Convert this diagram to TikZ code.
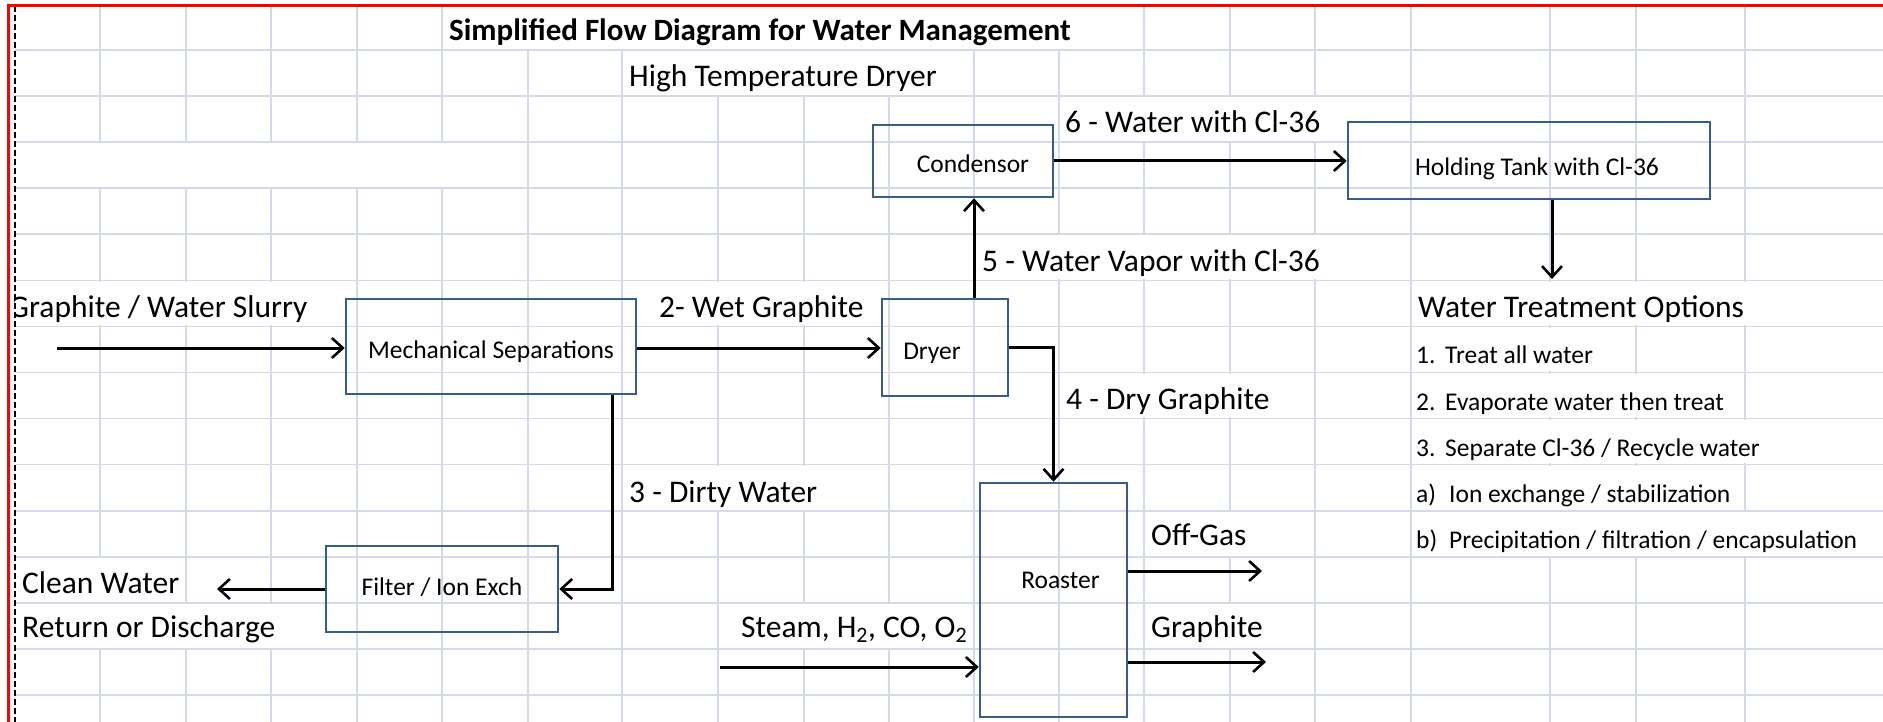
\documentclass[tikz,border=0pt]{standalone}
\usepackage{fontspec}
\setmainfont{Carlito}
\usetikzlibrary{arrows.meta,positioning}
\definecolor{BoxBlue}{RGB}{56,93,138}
\definecolor{GridGray}{RGB}{212,218,232}
\definecolor{SheetRed}{RGB}{255,0,0}

\begin{document}
\begin{tikzpicture}[
    x=1pt, y=-1pt,
    every node/.style={inner sep=0pt},
    % process boxes (no fill, the sheet grid shows through)
    box/.style={rectangle, draw=BoxBlue, line width=2.5pt, text height=24pt, text depth=0pt,
      font=\fontsize{25.5}{30}\selectfont},
    flow/.style={line width=3pt, -{Straight Barb[length=11pt,width=20pt,line width=2.6pt]}},
    biglbl/.style={anchor=base west, font=\fontsize{31.5}{36}\selectfont},
    smalllbl/.style={anchor=base west, font=\fontsize{25.5}{30}\selectfont},
    gridline/.style={draw=GridGray, line width=1.6pt}
  ]

    \useasboundingbox (0,0) rectangle (1883,722);
    \fill[white] (0,0) rectangle (1883,722);

    % Sheet grid
    \foreach \k in {0,...,14}
      \draw[gridline] (15,{50+46.07*\k}) -- (1883,{50+46.07*\k});
    \foreach \gx in {100,186,271,357,442,528,622,718,804,889,974,1059,1144,1230,1315,1411,1550,1636,1745}
      \draw[gridline] (\gx,6) -- (\gx,722);

    % Cells where text runs over (grid hidden)
    \foreach \xa/\xb/\r in {449/1090/0, 626/945/1, 1062/1330/2, 16/500/3, 980/1330/5,
        16/312/6, 655/868/6, 1416/1755/6, 1414/1605/7, 1414/1716/8, 1064/1272/8,
        1414/1756/9, 626/822/10, 1414/1732/10, 1414/1862/11, 1149/1250/11,
        16/182/12, 16/278/13, 739/970/13, 1149/1265/13}
      \fill[white] (\xa,{3.93+46.07*\r+1.2}) rectangle (\xb,{3.93+46.07*(\r+1)-1.2});

    % Boxes
    \node[box, minimum width=290pt, minimum height=95pt] (mech) at (491,346.5) {Mechanical Separations};
    \node[box, minimum width=126pt, minimum height=97pt] (dryer) at (945,347.5) {Dryer\hspace*{26pt}};
    \node[box, minimum width=180pt, minimum height=72pt] (cond) at (963,161) {\hspace*{20pt}Condensor};
    \node[box, minimum width=362pt, minimum height=77pt, text height=30pt] (hold) at (1529,160.5) {\hspace*{16pt}Holding Tank with Cl-36};
    \node[box, minimum width=232pt, minimum height=86pt, text height=12pt] (filt) at (442,589) {Filter / Ion Exch};
    \node[box, minimum width=147pt, minimum height=234pt, text height=17pt, text depth=41pt] (roast) at (1053.5,600) {\hspace*{14pt}Roaster};

    % Free ends
    \coordinate (slurryin) at (57,348);
    \coordinate (cleanend) at (217,591);
    \coordinate (steamin) at (720,667);
    \coordinate (wtotip) at (1552,279);
    \coordinate (offgasend) at (1262,571);
    \coordinate (grend) at (1266,662);

    % Arrows
    \draw[flow] (slurryin) -- (slurryin -| mech.west);
    \draw[flow] (mech.east |- slurryin) -- (dryer.west |- slurryin);
    \draw[flow] ([xshift=29pt]dryer.north) -- ([xshift=29pt]dryer.north |- cond.south);
    \draw[flow] (cond.east) -- (cond.east -| hold.west);
    \draw[flow] (wtotip |- hold.south) -- (wtotip);
    \draw[flow] (dryer.east) -| (roast.north);
    \draw[flow] ([xshift=121pt]mech.south) |- (filt.east);
    \draw[flow] (filt.west) -- (filt.west -| cleanend);
    \draw[flow] (steamin) -- (steamin -| roast.west);
    \draw[flow] (offgasend -| roast.east) -- (offgasend);
    \draw[flow] (grend -| roast.east) -- (grend);

    % Labels
    \node[biglbl, font=\fontsize{31}{36}\selectfont\bfseries] (title) at (449,41) {Simplified Flow Diagram for Water Management};
    \node[biglbl] (htd) at (629,87) {High Temperature Dryer};
    \node[biglbl] (lbl6) at (1065,133) {6 - Water with Cl-36};
    \node[biglbl] (lbl5) at (982,272) {5 - Water Vapor with Cl-36};
    \node[biglbl] (slurry) at (9,317) {Graphite / Water Slurry};
    \node[biglbl] (lbl2) at (659,317) {2- Wet Graphite};
    \node[biglbl] (lbl4) at (1066,409) {4 - Dry Graphite};
    \node[biglbl] (lbl3) at (629,502) {3 - Dirty Water};
    \node[biglbl] (clean) at (22,593) {Clean Water};
    \node[biglbl] (ret) at (22,637) {Return or Discharge};
    \node[biglbl] (offgas) at (1151,545) {Off-Gas};
    \node[biglbl] (grout) at (1151,637) {Graphite};
    \node[biglbl] (steam) at (741,637) {Steam, H\textsubscript{2}, CO, O\textsubscript{2}};
    \node[biglbl] (wto) at (1418,317) {Water Treatment Options};

    % Treatment list
    \node[smalllbl] (opt1) at (1416,363) {\makebox[29pt][l]{1.}Treat all water};
    \node[smalllbl] (opt2) at (1416,410) {\makebox[29pt][l]{2.}Evaporate water then treat};
    \node[smalllbl] (opt3) at (1416,456) {\makebox[29pt][l]{3.}Separate Cl-36 / Recycle water};
    \node[smalllbl] (opta) at (1416,502) {\makebox[33pt][l]{a)}Ion exchange / stabilization};
    \node[smalllbl] (optb) at (1416,548) {\makebox[33pt][l]{b)}Precipitation / filtration / encapsulation};

    % Sheet edges
    \fill[white] (9.6,282) rectangle (14,325);
    \draw[dash pattern=on 6pt off 3pt, line width=2.5pt] (15,6) -- (15,722);
    \draw[SheetRed, line width=3pt] (8,722) -- (8,6) -- (1883,6);

\end{tikzpicture}
\end{document}
